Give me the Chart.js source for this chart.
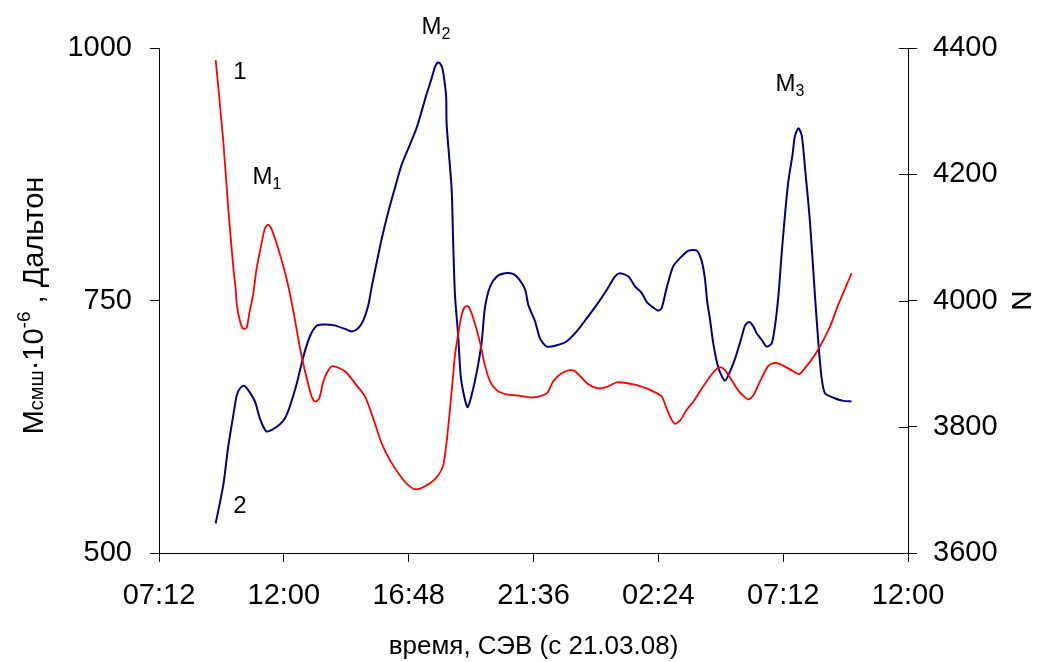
<!DOCTYPE html>
<html>
<head>
<meta charset="utf-8">
<script src="https://cdn.jsdelivr.net/npm/chart.js@4"></script>
<style>
  html, body { margin: 0; padding: 0; background: #fff; }
  #wrap { width: 1042px; height: 662px; }
</style>
</head>
<body>
<div id="wrap"><canvas id="chart" width="1042" height="662"></canvas></div>
<script>
// hours from 00:00 of 21.03.08 (values past 24 are next day)
const xTicks = [7.2, 12, 16.8, 21.6, 26.4, 31.2, 36];
const mTicks = [500, 750, 1000];
const nTicks = [3600, 3800, 4000, 4200, 4400];

// curve 1: Mсмш (left axis)
const mTime = [9.38, 9.67, 9.86, 10.06, 10.15, 10.19, 10.32, 10.44, 10.57, 10.67, 10.82, 10.95, 11.14, 11.28, 11.41,
  11.54, 11.79, 12.11, 12.37, 12.62, 12.88, 13.07, 13.20, 13.36, 13.52, 13.71, 13.88, 14.35, 14.74, 15.12, 15.44,
  15.77, 16.08, 16.46, 16.79, 17.11, 17.62, 17.94, 18.13, 18.26, 18.39, 18.51, 18.58, 18.70, 18.84, 18.97, 19.10,
  19.29, 19.54, 19.73, 19.93, 20.19, 20.57, 20.96, 21.59, 22.11, 22.36, 22.68, 23.00, 23.20, 23.71, 24.09, 24.48,
  24.80, 25.44, 25.95, 26.20, 26.53, 26.72, 26.91, 27.04, 27.23, 27.50, 27.75, 28.00, 28.26, 28.52, 28.77, 28.96,
  29.22, 29.47, 29.74, 29.86, 30.05, 30.31, 30.62, 30.82, 31.08, 31.59, 31.81, 32.04, 32.49, 33.00, 33.26, 33.83];
const mValues = [988, 908, 842, 782, 761, 746, 729, 722, 723, 737, 756, 781, 806, 822, 825,
  820, 801, 771, 739, 703, 673, 655, 650, 653, 670, 681, 685, 680, 668, 655, 633,
  608, 592, 577, 567, 563, 569, 577, 587, 610, 643, 676, 696, 716, 736, 744, 744,
  732, 709, 686, 670, 661, 657, 656, 654, 658, 670, 678, 681, 680, 667, 663, 665,
  669, 667, 663, 660, 655, 643, 632, 628, 631, 642, 650, 660, 670, 679, 684, 681,
  671, 661, 654, 652, 656, 670, 685, 688, 687, 680, 677, 683, 699, 724, 742, 777];

// curve 2: N (right axis)
const nTime = [9.38, 9.67, 9.86, 10.06, 10.19, 10.32, 10.47, 10.63, 10.89, 11.08, 11.32, 11.54, 11.85, 12.04, 12.23,
  12.50, 12.75, 13.00, 13.26, 13.52, 13.90, 14.35, 14.61, 14.86, 15.06, 15.25, 15.38, 15.58, 15.77, 16.02, 16.27,
  16.53, 16.85, 17.11, 17.30, 17.49, 17.69, 17.82, 17.94, 18.07, 18.13, 18.24, 18.26, 18.45, 18.51, 18.58, 18.70,
  18.81, 18.97, 19.07, 19.22, 19.42, 19.61, 19.73, 19.93, 20.19, 20.50, 20.82, 21.02, 21.28, 21.40, 21.66, 21.85,
  22.11, 22.49, 22.87, 23.26, 23.65, 24.03, 24.42, 24.73, 24.92, 25.25, 25.51, 25.76, 25.95, 26.20, 26.40, 26.53,
  26.72, 26.97, 27.23, 27.56, 27.88, 28.07, 28.19, 28.28, 28.38, 28.52, 28.71, 28.96, 29.15, 29.35, 29.61, 29.74,
  29.90, 30.05, 30.18, 30.37, 30.56, 30.76, 30.89, 31.02, 31.14, 31.27, 31.40, 31.56, 31.65, 31.79, 31.92, 32.04,
  32.23, 32.42, 32.55, 32.68, 32.81, 33.13, 33.51, 33.83];
const nValues = [3647, 3707, 3768, 3819, 3850, 3861, 3865, 3858, 3840, 3813, 3793, 3795, 3804, 3813, 3832,
  3869, 3911, 3943, 3960, 3962, 3961, 3955, 3951, 3956, 3969, 3993, 4022, 4062, 4099, 4141, 4178,
  4215, 4247, 4274, 4300, 4327, 4353, 4371, 4377, 4371, 4361, 4324, 4279, 4178, 4094, 4009, 3946,
  3877, 3842, 3831, 3850, 3887, 3935, 3988, 4022, 4038, 4043, 4042, 4035, 4017, 3993, 3967, 3940,
  3927, 3929, 3935, 3951, 3972, 3993, 4017, 4038, 4043, 4038, 4022, 4012, 3998, 3989, 3984, 3988,
  4020, 4054, 4067, 4079, 4079, 4062, 4035, 3998, 3972, 3930, 3893, 3873, 3887, 3908, 3943, 3961,
  3966, 3959, 3948, 3938, 3927, 3932, 3961, 4009, 4073, 4136, 4189, 4231, 4260, 4273, 4260, 4210,
  4125, 4009, 3935, 3877, 3853, 3846, 3841, 3840];

// text marks near the curves: [x hours, left-axis value, main, subscript]
const notes = [
  [10.31, 977, '1', ''],
  [10.31, 548, '2', ''],
  [11.35, 873, 'M', '1'],
  [17.85, 1022, 'M', '2'],
  [31.46, 965, 'M', '3']
];

const FONT = 'Liberation Sans, Arial, sans-serif';

function fmtTime(v) {
  const m = Math.round(v * 60) % 1440;
  const hh = Math.floor(m / 60), mm = m % 60;
  return String(hh).padStart(2, '0') + ':' + String(mm).padStart(2, '0');
}

// draws a run of text pieces with their own size and baseline shift
function drawRuns(ctx, runs, x, y, align) {
  let total = 0;
  runs.forEach(r => { ctx.font = r.size + 'px ' + FONT; r.w = ctx.measureText(r.t).width; total += r.w; });
  let cx = align === 'center' ? x - total / 2 : x;
  ctx.textAlign = 'left';
  ctx.textBaseline = 'alphabetic';
  runs.forEach(r => {
    ctx.font = r.size + 'px ' + FONT;
    ctx.fillText(r.t, cx, y + (r.dy || 0));
    cx += r.w;
  });
}

const extras = {
  id: 'extras',
  afterDraw(chart) {
    const ctx = chart.ctx;
    const xs = chart.scales.x, ys = chart.scales.y, y1 = chart.scales.y1;
    const area = chart.chartArea;
    ctx.save();
    ctx.fillStyle = '#000';
    ctx.strokeStyle = '#000';
    ctx.lineWidth = 1;

    // inner half of the right axis ticks
    nTicks.forEach(v => {
      const py = Math.round(y1.getPixelForValue(v)) + 0.5;
      ctx.beginPath();
      ctx.moveTo(area.right - 9, py);
      ctx.lineTo(area.right, py);
      ctx.stroke();
    });

    // curve labels
    notes.forEach(([h, v, t, sub]) => {
      const px = xs.getPixelForValue(h), py = ys.getPixelForValue(v) + 8;
      const runs = [{ t: t, size: 24 }];
      if (sub) runs.push({ t: sub, size: 16, dy: 5 });
      drawRuns(ctx, runs, px, py, 'center');
    });

    // axis titles
    drawRuns(ctx, [{ t: 'время, СЭВ (с 21.03.08)', size: 26 }], (area.left + area.right) / 2, 654, 'center');

    ctx.save();
    ctx.translate(43, (area.top + area.bottom) / 2 + 5);
    ctx.rotate(-Math.PI / 2);
    drawRuns(ctx, [
      { t: 'M', size: 29 },
      { t: 'смш', size: 20 },
      { t: '·10', size: 29 },
      { t: '-6', size: 19, dy: -13 },
      { t: ' , Дальтон', size: 29 }
    ], 0, 0, 'center');
    ctx.restore();

    ctx.save();
    ctx.translate(1012, (area.top + area.bottom) / 2);
    ctx.rotate(Math.PI / 2);
    drawRuns(ctx, [{ t: 'N', size: 28 }], 0, 0, 'center');
    ctx.restore();

    ctx.restore();
  }
};

const tickFont = { family: FONT, size: 29 };

new Chart(document.getElementById('chart'), {
  type: 'line',
  data: {
    datasets: [
      {
        label: '1',
        data: mTime.map((t, i) => ({ x: t, y: mValues[i] })),
        borderColor: '#ff0000',
        borderWidth: 1.8,
        pointRadius: 0,
        tension: 0.25,
        yAxisID: 'y'
      },
      {
        label: '2',
        data: nTime.map((t, i) => ({ x: t, y: nValues[i] })),
        borderColor: '#000080',
        borderWidth: 2,
        pointRadius: 0,
        tension: 0.25,
        yAxisID: 'y1'
      }
    ]
  },
  options: {
    responsive: false,
    animation: false,
    layout: { padding: { top: 48, left: 0, right: 0, bottom: 0 } },
    plugins: { legend: { display: false }, tooltip: { enabled: false } },
    scales: {
      x: {
        type: 'linear',
        min: 7.2,
        max: 36,
        afterBuildTicks: s => { s.ticks = xTicks.map(v => ({ value: v })); },
        afterFit: s => { s.height = 109; },
        ticks: { callback: v => fmtTime(v), color: '#000', font: tickFont, padding: 17, maxRotation: 0, autoSkip: false },
        grid: { drawOnChartArea: false, tickLength: 9, color: '#000' },
        border: { color: '#000', width: 1 }
      },
      y: {
        position: 'left',
        min: 500,
        max: 1000,
        afterBuildTicks: s => { s.ticks = mTicks.map(v => ({ value: v })); },
        afterFit: s => { s.width = 159; },
        ticks: { callback: v => String(v), color: '#000', font: tickFont, padding: 18 },
        grid: { drawOnChartArea: false, tickLength: 9, color: '#000' },
        border: { color: '#000', width: 1 }
      },
      y1: {
        position: 'right',
        min: 3600,
        max: 4400,
        afterBuildTicks: s => { s.ticks = nTicks.map(v => ({ value: v })); },
        afterFit: s => { s.width = 134; },
        ticks: { callback: v => String(v), color: '#000', font: tickFont, padding: 16 },
        grid: { drawOnChartArea: false, tickLength: 9, color: '#000' },
        border: { color: '#000', width: 1 }
      }
    }
  },
  plugins: [extras]
});
</script>
</body>
</html>
